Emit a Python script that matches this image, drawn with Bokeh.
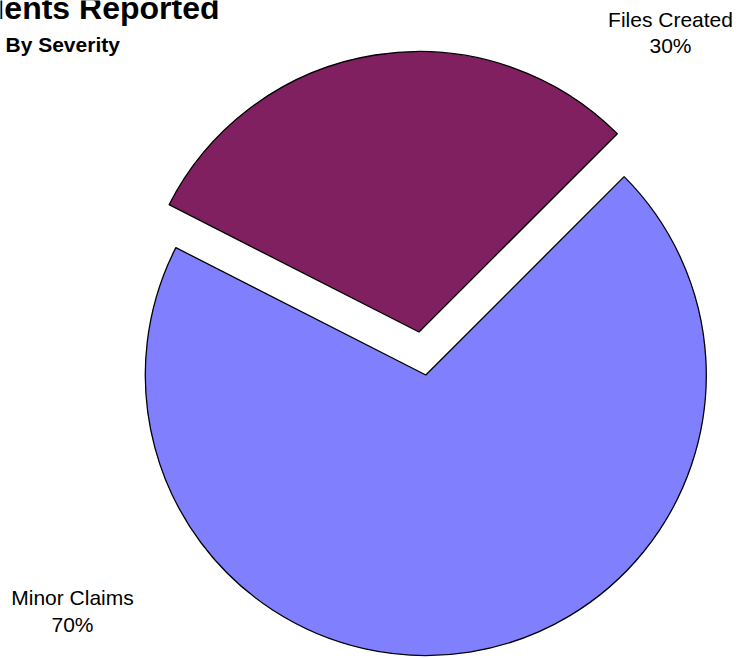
import math
from bokeh.plotting import figure
from bokeh.models import Range1d, ColumnDataSource
from bokeh.core.properties import value
from bokeh.embed import file_html
from bokeh.resources import INLINE

# Data
categories = ["Files Created", "Minor Claims"]
values = [30, 70]
colors = ["#802060", "#8080FF"]
explode = [43.5, 0.0]  # offset in px of exploded slices
title_text = "Incidents Reported"
subtitle_text = "By Severity"

W, H = 738, 658
p = figure(width=W, height=H, output_backend="svg", toolbar_location=None,
           x_range=Range1d(0, W), y_range=Range1d(0, H), min_border=0)
p.axis.visible = False
p.grid.visible = False
p.outline_line_color = None
p.background_fill_color = "white"

cx, cy, r = 425.3, 283.5, 280.5
start_deg = 45.0
total = sum(values)
starts, ends, xs, ys = [], [], [], []
a = start_deg
for v, e in zip(values, explode):
    span = v / total * 360.0
    s, t = a, a + span
    mid = math.radians((s + t) / 2)
    starts.append(math.radians(s))
    ends.append(math.radians(t))
    xs.append(cx + e * math.cos(mid))
    ys.append(cy + e * math.sin(mid))
    a = t

src = ColumnDataSource(dict(x=xs, y=ys, start=starts, end=ends, color=colors))
p.wedge(x="x", y="y", radius=r, start_angle="start", end_angle="end",
        fill_color="color", line_color="black", line_width=1.3, source=src)

font = value("Liberation Sans")
# Title & subtitle
p.text(x=[219], y=[651], text=[title_text], text_font=font, text_font_style="bold",
       text_font_size="32px", text_align="right", text_baseline="alphabetic", text_color="black")
p.text(x=[5], y=[614], text=[subtitle_text], text_font=font, text_font_style="bold",
       text_font_size="21px", text_align="left", text_baseline="alphabetic", text_color="black")

# Slice labels
label_pos = {"Files Created": (670, 639.4, 613.4), "Minor Claims": (72, 61.4, 34.4)}
for cat, v in zip(categories, values):
    lx, ly1, ly2 = label_pos[cat]
    pct = f"{round(v / total * 100)}%"
    p.text(x=[lx, lx], y=[ly1, ly2], text=[cat, pct], text_font=font,
           text_font_size="21px", text_align="center", text_baseline="alphabetic",
           text_color="black")

open("out.html", "w").write(file_html(p, INLINE))
